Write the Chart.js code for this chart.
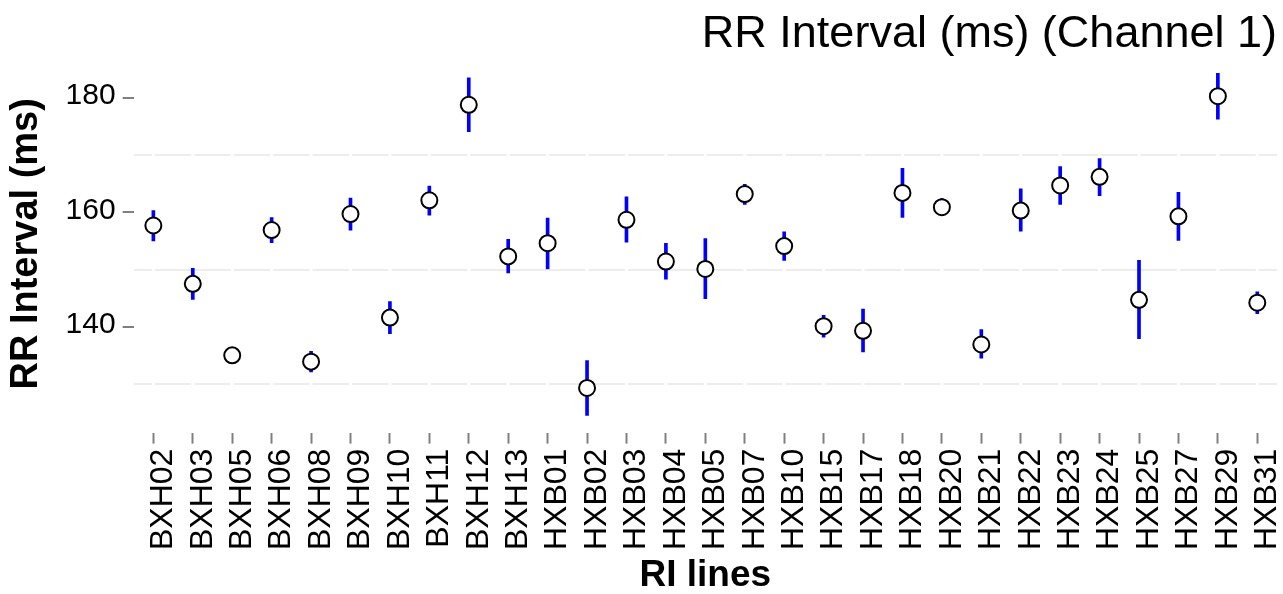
<!DOCTYPE html>
<html>
<head>
<meta charset="utf-8">
<script src="https://cdn.jsdelivr.net/npm/chart.js@4/dist/chart.umd.min.js"></script>
<style>
  html, body { margin: 0; padding: 0; background: #ffffff; }
  #wrap { width: 1283px; height: 594px; position: relative; }
</style>
</head>
<body>
<div id="wrap"><canvas id="c"></canvas></div>
<script>
const categories = ["BXH02","BXH03","BXH05","BXH06","BXH08","BXH09","BXH10","BXH11","BXH12","BXH13",
  "HXB01","HXB02","HXB03","HXB04","HXB05","HXB07","HXB10","HXB15","HXB17","HXB18",
  "HXB20","HXB21","HXB22","HXB23","HXB24","HXB25","HXB27","HXB29","HXB31"];
const meanValues = [157.7,147.5,135.0,156.9,133.9,159.7,141.6,162.1,178.8,152.3,
  154.6,129.3,158.7,151.4,150.1,163.2,154.1,140.1,139.3,163.4,
  160.9,136.9,160.3,164.7,166.2,144.7,159.3,180.3,144.2];
const lowerValues = [155.0,144.8,133.8,154.7,132.1,156.9,138.8,159.5,174.1,149.4,
  150.1,124.5,154.8,148.3,144.9,161.4,151.6,138.2,135.6,159.1,
  159.4,134.5,156.7,161.4,162.9,137.9,155.1,176.3,142.3];
const upperValues = [160.3,150.2,136.2,159.1,135.7,162.5,144.4,164.6,183.5,155.3,
  159.0,134.1,162.7,154.6,155.4,164.9,156.6,142.0,143.1,167.7,
  162.4,139.5,164.1,168.0,169.4,151.6,163.5,184.3,146.1];
const yTickValues = [130,140,150,160,170,180];
const yLabelValues = [140,160,180];

const errorBars = categories.map((c, i) => [lowerValues[i], upperValues[i]]);

const gridBreaks = {
  id: 'gridBreaks',
  beforeDatasetsDraw(chart) {
    const {ctx, chartArea, scales} = chart;
    ctx.save();
    ctx.strokeStyle = '#ffffff';
    ctx.lineWidth = 3;
    categories.forEach((c, i) => {
      const x = scales.x.getPixelForValue(i);
      ctx.beginPath();
      ctx.moveTo(x, chartArea.top);
      ctx.lineTo(x, chartArea.bottom);
      ctx.stroke();
    });
    ctx.restore();
  }
};

new Chart(document.getElementById('c'), {
  data: {
    labels: categories,
    datasets: [
      {
        type: 'line',
        label: 'Mean',
        data: meanValues,
        showLine: false,
        pointRadius: 8,
        pointHoverRadius: 8,
        pointBorderWidth: 2,
        pointBorderColor: '#000000',
        pointBackgroundColor: '#ffffff',
        order: 0
      },
      {
        type: 'bar',
        label: 'Error',
        data: errorBars,
        backgroundColor: '#0000ff',
        borderWidth: 0,
        barThickness: 3,
        borderSkipped: false,
        order: 1
      }
    ]
  },
  options: {
    responsive: true,
    maintainAspectRatio: false,
    animation: false,
    events: [],
    layout: { autoPadding: false, padding: { left: 0, right: 6, top: 0, bottom: 0 } },
    plugins: {
      legend: { display: false },
      tooltip: { enabled: false },
      title: {
        display: true,
        text: 'RR Interval (ms) (Channel 1)',
        align: 'end',
        color: '#000000',
        font: { family: 'Liberation Sans', size: 45, weight: 'normal', lineHeight: 1.0 },
        padding: { top: 12, bottom: -2 }
      }
    },
    scales: {
      x: {
        type: 'category',
        offset: true,
        border: { display: false },
        afterFit(scale) {
          scale.paddingLeft = 0;
          scale.paddingRight = 0;
        },
        grid: {
          drawOnChartArea: false,
          drawTicks: true,
          tickLength: 11,
          tickWidth: 2,
          tickColor: '#808080',
          offset: false
        },
        ticks: {
          autoSkip: false,
          minRotation: 90,
          maxRotation: 90,
          padding: 5,
          labelOffset: 10,
          color: '#000000',
          font: { family: 'Liberation Sans', size: 32 }
        },
        title: {
          display: true,
          text: 'RI lines',
          color: '#000000',
          font: { family: 'Liberation Sans', size: 37, weight: 'bold', lineHeight: 1.0 },
          padding: { top: 2, bottom: 0 }
        }
      },
      y: {
        type: 'linear',
        min: 121.5,
        max: 187.5,
        border: { display: false },
        afterBuildTicks(scale) {
          scale.ticks = yTickValues.map(v => ({ value: v }));
        },
        grid: {
          drawOnChartArea: true,
          lineWidth: 2,
          color: (ctx) => (ctx.tick && yLabelValues.includes(ctx.tick.value)) ? 'rgba(0,0,0,0)' : '#ededed',
          tickLength: 11,
          tickWidth: 2,
          tickColor: (ctx) => (ctx.tick && yLabelValues.includes(ctx.tick.value)) ? '#808080' : 'rgba(0,0,0,0)'
        },
        ticks: {
          padding: 7,
          labelOffset: -2,
          color: '#000000',
          font: { family: 'Liberation Sans', size: 30 },
          callback: (v) => yLabelValues.includes(v) ? String(v) : ''
        },
        title: {
          display: true,
          text: 'RR Interval (ms)',
          color: '#000000',
          font: { family: 'Liberation Sans', size: 38, weight: 'bold', lineHeight: 1.2 },
          padding: { top: 4, bottom: 9 }
        }
      }
    }
  },
  plugins: [gridBreaks]
});
</script>
</body>
</html>
